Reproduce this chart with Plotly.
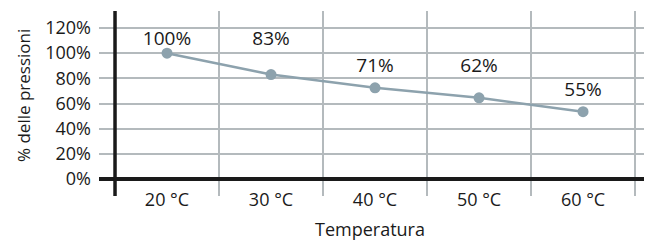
import plotly.graph_objects as go

categories = ["20 °C", "30 °C", "40 °C", "50 °C", "60 °C"]
pressure_pct = [100, 83, 72.5, 64.5, 53.5]
label_text = ["100%", "83%", "71%", "62%", "55%"]
label_level = [110, 110, 89, 89, 70]
y_ticks = [0, 20, 40, 60, 80, 100, 120]
y_tick_text = ["0%", "20%", "40%", "60%", "80%", "100%", "120%"]

FONT = "Open Sans"
FS = 19
TXT = "#1a1a1a"
GRID = "#b4babd"
LINE = "#8da2ad"

fig = go.Figure()
fig.add_trace(go.Scatter(
    x=categories, y=pressure_pct, mode="lines+markers",
    line=dict(color=LINE, width=2.5),
    marker=dict(color=LINE, size=11),
    hoverinfo="skip", showlegend=False,
))
fig.add_trace(go.Scatter(
    x=categories, y=label_level, mode="text", text=label_text,
    textfont=dict(family=FONT, size=FS, color=TXT),
    hoverinfo="skip", showlegend=False,
))

fig.add_shape(type="line", xref="x", yref="paper", x0=-0.5, x1=-0.5, y0=0, y1=1,
              line=dict(color="#1a1a1a", width=3.5), layer="above")

fig.add_annotation(text="% delle pressioni", xref="paper", yref="paper",
                   x=-0.1374, y=0.5405, xanchor="center", yanchor="middle",
                   textangle=-90, showarrow=False,
                   font=dict(family=FONT, size=17, color=TXT))
fig.add_annotation(text="Temperatura", xref="paper", yref="paper",
                   x=0.49, y=-0.178, xanchor="center", yanchor="middle",
                   showarrow=False, font=dict(family=FONT, size=FS - 1, color=TXT))

# the page body keeps an 8px default margin, so the figure is 8px smaller
fig.update_layout(
    width=644, height=236, autosize=False,
    margin=dict(l=91, r=0, t=3, b=48, autoexpand=False),
    paper_bgcolor="white", plot_bgcolor="white",
    font=dict(family=FONT, size=FS, color=TXT),
)
fig.update_xaxes(
    type="category", categoryorder="array", categoryarray=categories,
    range=[-0.654, 4.663], tickson="boundaries",
    showgrid=True, gridcolor=GRID, gridwidth=1.5,
    ticks="", showline=False, zeroline=False,
    tickfont=dict(family=FONT, size=FS - 1, color=TXT),
    ticklabelstandoff=-9,
)
fig.update_yaxes(
    range=[-13.5, 133.5], tickvals=y_ticks, ticktext=y_tick_text,
    showgrid=True, gridcolor=GRID, gridwidth=1.5,
    zeroline=True, zerolinecolor="#1a1a1a", zerolinewidth=3.5,
    ticks="", showline=False,
    tickfont=dict(family=FONT, size=FS - 1, color=TXT),
    ticklabelstandoff=7,
)

fig.write_html("out.html")
